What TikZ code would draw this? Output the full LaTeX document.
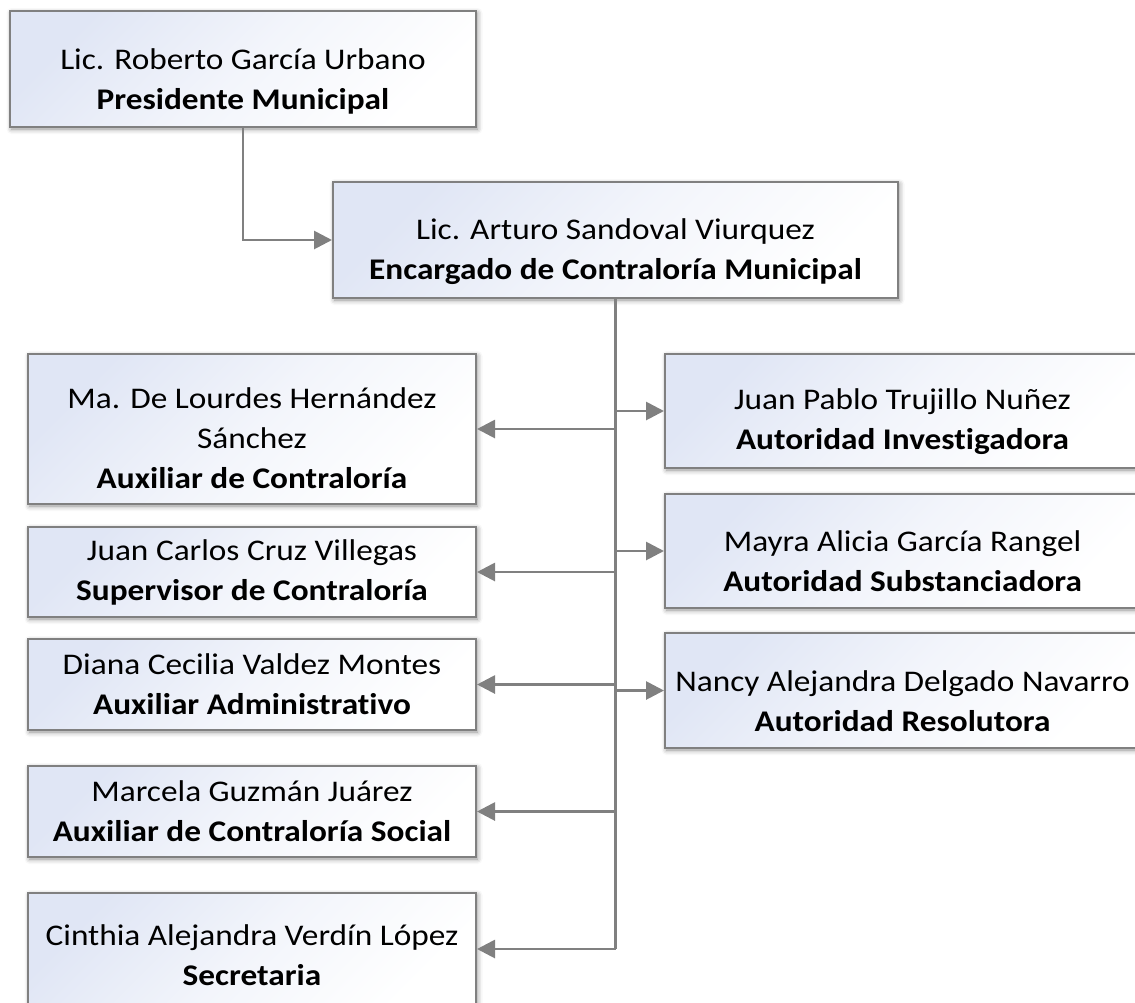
\documentclass[tikz,border=0pt]{standalone}
\usepackage{fontspec}
\setmainfont{Carlito}[FakeStretch=1.11, Ligatures={NoCommon}]
\usetikzlibrary{arrows.meta,shadows.blur}
\definecolor{boxblue}{RGB}{224,230,245}
\definecolor{linegray}{RGB}{128,128,128}
\tikzset{
  orgbox/.style={rectangle, draw=linegray, line width=2pt, inner sep=0pt,
    top color=boxblue, bottom color=white, middle color=white!60!boxblue, shading angle=45,
    blur shadow={shadow xshift=1.5pt, shadow yshift=-2pt, shadow blur radius=5pt, shadow opacity=45}},
  boxtext/.style={inner sep=0pt, align=center, font=\fontsize{30}{40}\selectfont},
  conn/.style={draw=linegray, line width=2.8pt},
  arr/.style={conn, -{Triangle[length=18pt,width=18pt]}},
}
\begin{document}
\begin{tikzpicture}[x=1pt,y=-1pt]
\useasboundingbox (0,0) rectangle (1135,1002);
\begin{scope}
\clip (0,0) rectangle (1135,1002);
\node[orgbox, minimum width=466pt, minimum height=116pt] (pres) at (243,69) {};
\node[boxtext] (prest) at ([yshift=-12pt]pres.center)
  {Lic. Roberto García Urbano\\\textbf{Presidente Municipal}};
\node[orgbox, minimum width=565pt, minimum height=116pt] (enc) at (615.5,240) {};
\node[boxtext] (enct) at ([yshift=-12pt]enc.center)
  {Lic. Arturo Sandoval Viurquez\\\textbf{Encargado de Contraloría Municipal}};

\node[orgbox, minimum width=448pt, minimum height=150pt] (l1) at (252,429) {};
\node[boxtext] (l1t) at ([yshift=-9pt]l1.center)
  {Ma. De Lourdes Hernández\\Sánchez\\\textbf{Auxiliar de Contraloría}};
\node[orgbox, minimum width=448pt, minimum height=90pt] (l2) at (252,572) {};
\node[boxtext] (l2t) at ([yshift=0pt]l2.center)
  {Juan Carlos Cruz Villegas\\\textbf{Supervisor de Contraloría}};
\node[orgbox, minimum width=448pt, minimum height=91pt] (l3) at (252,684.5) {};
\node[boxtext] (l3t) at ([yshift=0pt]l3.center)
  {Diana Cecilia Valdez Montes\\\textbf{Auxiliar Administrativo}};
\node[orgbox, minimum width=448pt, minimum height=91pt] (l4) at (252,811.5) {};
\node[boxtext] (l4t) at ([yshift=0pt]l4.center)
  {Marcela Guzmán Juárez\\\textbf{Auxiliar de Contraloría Social}};
\node[orgbox, minimum width=448pt, minimum height=112pt] (l5) at (252,949) {};
\node[boxtext] (l5t) at ([yshift=-6pt]l5.center)
  {Cinthia Alejandra Verdín López\\\textbf{Secretaria}};

\node[orgbox, minimum width=475pt, minimum height=114pt] (r1) at (902.5,411) {};
\node[boxtext] (r1t) at ([yshift=-11pt]r1.center)
  {Juan Pablo Trujillo Nuñez\\\textbf{Autoridad Investigadora}};
\node[orgbox, minimum width=475pt, minimum height=114pt] (r2) at (902.5,551) {};
\node[boxtext] (r2t) at ([yshift=-10pt]r2.center)
  {Mayra Alicia García Rangel\\\textbf{Autoridad Substanciadora}};
\node[orgbox, minimum width=475pt, minimum height=115pt] (r3) at (902.5,690.5) {};
\node[boxtext] (r3t) at ([yshift=-11pt]r3.center)
  {Nancy Alejandra Delgado Navarro\\\textbf{Autoridad Resolutora}};
\end{scope}

\draw[arr] (pres.south) |- (enc.west);
\draw[conn] (enc.south) -- (enc.south |- l5.east);
\foreach \b in {l1,l2,l3,l4,l5}{
  \draw[arr] (enc.south |- \b.east) -- (\b.east);
}
\foreach \b in {r1,r2,r3}{
  \draw[arr] (enc.south |- \b.west) -- (\b.west);
}
\end{tikzpicture}
\end{document}
